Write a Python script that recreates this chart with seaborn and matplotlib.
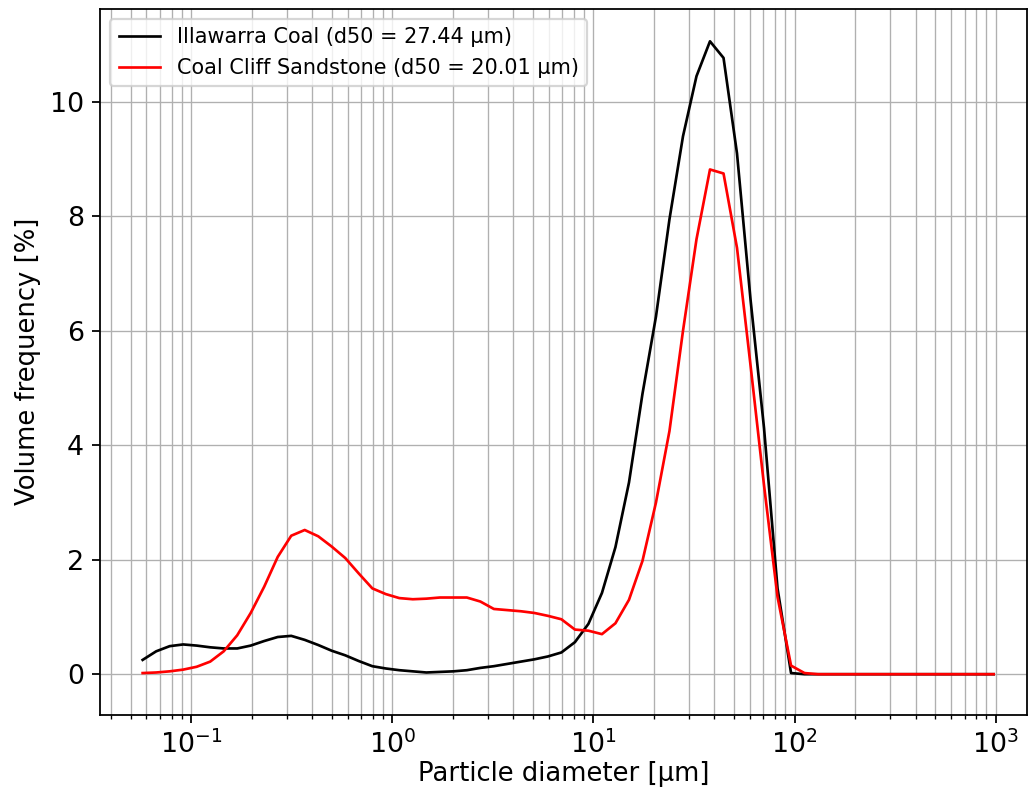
import pandas as pd
import matplotlib
matplotlib.use("Agg")
import matplotlib.pyplot as plt
import seaborn as sns

# particle size classes [um]
diameter = [0.05741, 0.06703, 0.07822, 0.09130, 0.1066, 0.1244, 0.1452, 0.1695,
            0.1978, 0.2309, 0.2695, 0.3146, 0.3671, 0.4286, 0.5002, 0.5839,
            0.6817, 0.7958, 0.9288, 1.084, 1.265, 1.477, 1.724, 2.012,
            2.349, 2.742, 3.200, 3.736, 4.360, 5.090, 5.940, 6.934,
            8.094, 9.447, 11.03, 12.87, 15.03, 17.54, 20.47, 23.89,
            27.89, 32.55, 37.99, 44.36, 51.76, 60.42, 70.53, 82.32,
            96.09, 112.1, 130.9, 152.8, 178.4, 208.2, 243.0, 283.7,
            331.1, 386.5, 451.1, 526.6, 614.6, 717.5, 837.3, 977.4]

# volume frequency [%]
coal = [0.25, 0.40, 0.49, 0.52, 0.50, 0.47, 0.45, 0.45,
        0.50, 0.58, 0.65, 0.67, 0.60, 0.51, 0.41, 0.33,
        0.23, 0.14, 0.10, 0.07, 0.05, 0.03, 0.04, 0.05,
        0.07, 0.11, 0.14, 0.18, 0.22, 0.26, 0.31, 0.38,
        0.56, 0.88, 1.42, 2.22, 3.35, 4.90, 6.25, 7.95,
        9.40, 10.45, 11.06, 10.77, 9.10, 6.55, 4.30, 1.50,
        0.02, 0.0, 0.0, 0.0, 0.0, 0.0, 0.0, 0.0,
        0.0, 0.0, 0.0, 0.0, 0.0, 0.0, 0.0, 0.0]

sandstone = [0.02, 0.03, 0.05, 0.08, 0.13, 0.22, 0.40, 0.68,
             1.07, 1.53, 2.05, 2.42, 2.52, 2.41, 2.23, 2.03,
             1.76, 1.50, 1.40, 1.33, 1.31, 1.32, 1.34, 1.34,
             1.34, 1.27, 1.14, 1.12, 1.10, 1.07, 1.02, 0.96,
             0.78, 0.76, 0.70, 0.89, 1.30, 1.98, 3.00, 4.25,
             6.00, 7.60, 8.82, 8.75, 7.45, 5.40, 3.30, 1.35,
             0.15, 0.02, 0.0, 0.0, 0.0, 0.0, 0.0, 0.0,
             0.0, 0.0, 0.0, 0.0, 0.0, 0.0, 0.0, 0.0]

labels = ["Illawarra Coal (d50 = 27.44 µm)", "Coal Cliff Sandstone (d50 = 20.01 µm)"]

df = pd.DataFrame({"d": diameter, "coal": coal, "sand": sandstone})

fig, ax = plt.subplots(figsize=(1030 / 161, 789 / 161), dpi=161)
fig.subplots_adjust(left=0.097, right=0.997, bottom=0.094, top=0.989)

sns.lineplot(data=df, x="d", y="coal", color="black", label=labels[0], ax=ax, lw=1.2)
sns.lineplot(data=df, x="d", y="sand", color="red", label=labels[1], ax=ax, lw=1.2)

ax.set_xscale("log")
ax.set_xlim(0.0352, 1430)
ax.set_ylim(-0.71, 11.63)
ax.grid(True, which="both", color="#b0b0b0", lw=0.6)
ax.set_axisbelow(True)
ax.tick_params(labelsize=12)
ax.set_xlabel("Particle diameter [µm]", fontsize=11.6, labelpad=1)
ax.set_ylabel("Volume frequency [%]", fontsize=11.6)
ax.legend(loc="upper left", fontsize=9.3)

fig.savefig("out.png", dpi=161)
